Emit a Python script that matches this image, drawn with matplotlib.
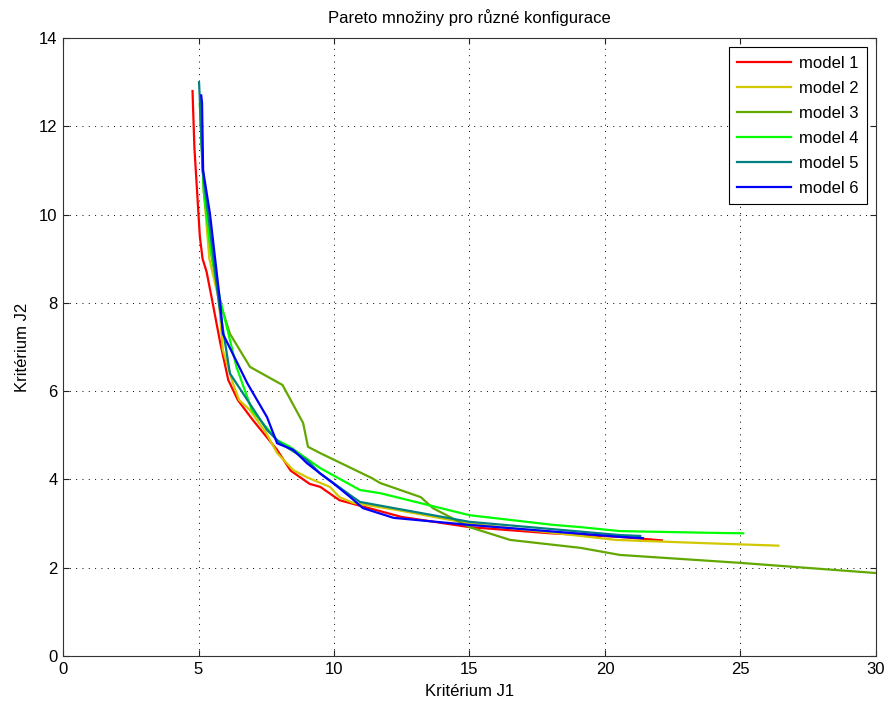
#!/usr/bin/env python3
"""Pareto fronts for several model configurations."""

import matplotlib
matplotlib.use('Agg')
import matplotlib.pyplot as plt

plt.rcParams['font.family'] = ['Liberation Sans', 'DejaVu Sans']

# Pareto fronts (J1, J2)
m1_j1 = [4.78, 4.80, 4.85, 4.95, 5.05, 5.15, 5.30, 5.50, 5.80, 6.10, 6.45, 7.00, 7.90, 8.40, 9.10, 9.50, 10.20, 12.50, 15.00, 18.0, 20.5, 22.1]
m1_j2 = [12.8, 12.4, 11.5, 10.5, 9.5, 9.0, 8.7, 8.07, 7.1, 6.25, 5.8, 5.35, 4.67, 4.2, 3.9, 3.83, 3.53, 3.15, 2.92, 2.78, 2.70, 2.62]

m2_j1 = [5.10, 5.20, 5.40, 5.75, 5.90, 6.27, 6.50, 6.90, 7.50, 7.90, 8.50, 9.00, 9.85, 10.20, 10.70, 12.40, 15.00, 18.10, 20.40, 24.00, 26.40]
m2_j2 = [12.0, 10.5, 9.0, 8.07, 6.93, 6.18, 5.8, 5.57, 5.05, 4.6, 4.21, 4.05, 3.83, 3.6, 3.47, 3.3, 3.0, 2.79, 2.63, 2.55, 2.5]

m3_j1 = [5.05, 5.20, 5.50, 5.80, 6.16, 6.90, 8.10, 8.86, 9.04, 9.48, 11.40, 11.70, 13.20, 13.65, 15.00, 16.50, 19.10, 20.55, 25.00, 30.00]
m3_j2 = [12.5, 10.5, 9.0, 8.0, 7.3, 6.55, 6.14, 5.28, 4.74, 4.6, 4.03, 3.92, 3.6, 3.35, 2.92, 2.63, 2.45, 2.29, 2.11, 1.88]

m4_j1 = [5.05, 5.20, 5.45, 5.80, 6.40, 6.97, 7.90, 8.37, 9.48, 10.96, 11.70, 15.00, 18.10, 19.10, 20.55, 24.00, 25.10]
m4_j2 = [12.5, 10.5, 9.2, 8.07, 6.55, 5.57, 4.89, 4.74, 4.26, 3.76, 3.69, 3.19, 2.97, 2.92, 2.83, 2.79, 2.78]

m5_j1 = [5.02, 5.05, 5.15, 5.40, 5.75, 6.16, 7.53, 8.00, 9.00, 9.48, 10.70, 10.96, 15.00, 20.55, 21.30]
m5_j2 = [13.0, 12.6, 11.0, 9.8, 8.0, 6.4, 5.12, 4.83, 4.44, 4.14, 3.6, 3.49, 3.04, 2.74, 2.72]

m6_j1 = [5.10, 5.13, 5.17, 5.42, 5.80, 5.90, 6.80, 7.53, 7.90, 8.50, 9.00, 9.48, 9.96, 10.60, 11.07, 12.20, 15.00, 20.55, 21.40]
m6_j2 = [12.7, 12.53, 11.0, 10.03, 8.0, 7.3, 6.18, 5.41, 4.82, 4.67, 4.37, 4.14, 3.92, 3.6, 3.35, 3.13, 2.97, 2.70, 2.67]

labels = ['model 1', 'model 2', 'model 3', 'model 4', 'model 5', 'model 6']
colors = ['#ff0000', '#d2c800', '#62a800', '#00ff00', '#008080', '#0000ff']
series = [(m1_j1, m1_j2), (m2_j1, m2_j2), (m3_j1, m3_j2),
          (m4_j1, m4_j2), (m5_j1, m5_j2), (m6_j1, m6_j2)]

FS = 12

fig = plt.figure(figsize=(8.85, 7.02), dpi=100)
ax = fig.add_axes([0.0712, 0.0655, 0.9186, 0.8803])

for (x, y), lab, c in zip(series, labels, colors):
    ax.plot(x, y, color=c, lw=1.6, label=lab)

ax.set_xlim(0, 30)
ax.set_ylim(0, 14)
ax.set_xticks(range(0, 31, 5))
ax.set_yticks(range(0, 15, 2))
ax.grid(True, color='black', linestyle=(0, (1, 5.5)), lw=0.7)
ax.tick_params(direction='in', top=True, right=True, labelsize=FS,
               length=4, pad=4, colors='#222222', labelcolor='black')
for s in ax.spines.values():
    s.set_linewidth(0.8)
    s.set_color('#333333')

ax.set_xlabel('Kritérium J1', fontsize=FS, labelpad=5)
ax.set_ylabel('Kritérium J2', fontsize=FS, labelpad=6)
ax.set_title('Pareto množiny pro různé konfigurace', fontsize=FS, pad=11)

leg = ax.legend(loc='upper right', fontsize=FS, fancybox=False, framealpha=1,
                edgecolor='black', handlelength=3.2, handletextpad=0.5,
                borderaxespad=0.55, labelspacing=0.6, borderpad=0.5)
leg.get_frame().set_linewidth(0.8)

plt.savefig('out.png', dpi=100)
print("Saved: out.png")
